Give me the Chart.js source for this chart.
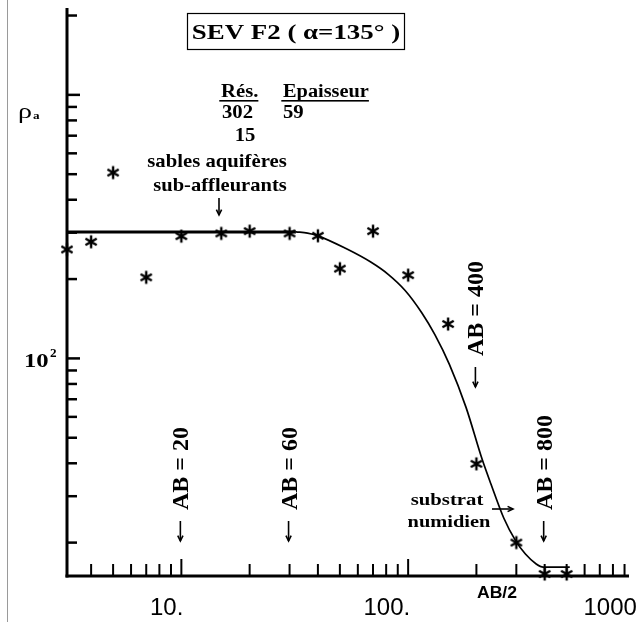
<!DOCTYPE html>
<html><head><meta charset="utf-8">
<script src="https://cdn.jsdelivr.net/npm/chart.js@4.4.0/dist/chart.umd.min.js"></script>
<style>html,body{margin:0;padding:0;background:#fff;overflow:hidden}canvas{display:block}</style>
</head><body>
<canvas id="c" width="637" height="622"></canvas>
<script>
// ---- data ----
const measuredAB2 = [3.13, 4, 5, 7, 10, 15, 20, 30, 40, 50, 70, 100, 150, 200, 300, 400, 500];
const measuredRho = [259, 277, 507, 203, 291, 298, 304, 298, 292, 219, 304, 207, 135, 39.8, 20.0, 15.2, 15.2];
const modelFlatAB2 = [3.13, 32];
const modelFlatRho = [302, 302];
const modelCurveAB2 = [32, 36, 39.8, 53.2, 68.4, 81.9, 97, 115, 131, 152, 180, 212, 232, 264, 298, 329, 367, 394, 516];
const modelCurveRho = [302, 299, 292.4, 261, 232, 208, 181, 148.7, 123.3, 94.9, 65.2, 41.4, 33.3, 24.8, 20.3, 18.1, 16.6, 16.15, 16.15];
const xTickValues = [10, 100, 1000];
const xTickLabels = ['10.', '100.', '1000'];
const xMinorTicks = [4,5,6,7,8,9,20,30,40,50,60,70,80,90,200,300,400,500,600,700,800,900];
const yTickValues = [20,30,40,50,60,70,80,90,100,200,300,400,500,600,700,800,900,1000,2000];
const electrodeAB = [20, 60, 400, 800];
const layerRes = ['302', '15'];
const layerThick = ['59'];

const SERIF = "'Liberation Serif','DejaVu Serif',serif";
const SANS = "'Liberation Sans','DejaVu Sans',sans-serif";

function starImg(){
  const c=document.createElement('canvas'); c.width=16; c.height=16;
  const g=c.getContext('2d'); g.strokeStyle='#000'; g.lineWidth=2.4; g.lineCap='butt';
  const r=6.5; g.beginPath();
  for(const a of [90,30,-30]){ const t=a*Math.PI/180;
    g.moveTo(8+r*Math.cos(t),8-r*Math.sin(t)); g.lineTo(8-r*Math.cos(t),8+r*Math.sin(t)); }
  g.stroke(); return c;
}

// text with horizontal stretch (the scanned original is widened)
function sText(ctx, s, x, y, font, sx, align, underline){
  ctx.save();
  ctx.font=font; ctx.textAlign=align||'left';
  ctx.translate(x, y); ctx.scale(sx, 1);
  ctx.fillText(s, 0, 0);
  if(underline){
    const w=ctx.measureText(s).width;
    ctx.fillRect(-1.5, 3, w+1.5, 1.6);
  }
  ctx.restore();
}

function arrowLine(ctx, x1, y1, x2, y2, head){
  ctx.beginPath(); ctx.moveTo(x1,y1); ctx.lineTo(x2,y2); ctx.stroke();
  const ang=Math.atan2(y2-y1, x2-x1);
  ctx.beginPath();
  ctx.moveTo(x2-head*Math.cos(ang-0.45), y2-head*Math.sin(ang-0.45));
  ctx.lineTo(x2, y2);
  ctx.lineTo(x2-head*Math.cos(ang+0.45), y2-head*Math.sin(ang+0.45));
  ctx.stroke();
}

const axesPlugin = {
  id:'axesPlugin',
  beforeDatasetsDraw(chart){
    const ctx=chart.ctx, a=chart.chartArea, xs=chart.scales.x, ys=chart.scales.y;
    ctx.save();
    ctx.strokeStyle='#9a9a9a'; ctx.lineWidth=1;
    ctx.beginPath(); ctx.moveTo(7.5,0); ctx.lineTo(7.5,622); ctx.stroke();
    ctx.strokeStyle='#000'; ctx.lineWidth=3;
    ctx.beginPath(); ctx.moveTo(a.left, a.top); ctx.lineTo(a.left, a.bottom+1.5); ctx.stroke();
    ctx.beginPath(); ctx.moveTo(a.left-1.5, a.bottom); ctx.lineTo(a.right, a.bottom); ctx.stroke();
    ctx.lineWidth=2.5;
    for(const v of yTickValues){
      const p=ys.getPixelForValue(v);
      const len=(v===100||v===1000)?13:10;
      ctx.beginPath(); ctx.moveTo(a.left, p); ctx.lineTo(a.left+len, p); ctx.stroke();
    }
    ctx.lineWidth=2;
    for(const v of xMinorTicks){
      const p=xs.getPixelForValue(v);
      if(p>a.right) continue;
      ctx.beginPath(); ctx.moveTo(p, a.bottom); ctx.lineTo(p, a.bottom-12); ctx.stroke();
    }
    for(const v of xTickValues){
      const p=xs.getPixelForValue(v);
      if(p>a.right) continue;
      ctx.beginPath(); ctx.moveTo(p, a.bottom); ctx.lineTo(p, a.bottom-17); ctx.stroke();
    }
    ctx.restore();
  },
  afterDraw(chart){
    const ctx=chart.ctx, xs=chart.scales.x;
    ctx.save();
    ctx.fillStyle='#000'; ctx.strokeStyle='#000'; ctx.textBaseline='alphabetic';
    // x tick labels
    xTickValues.forEach((v,i)=>{
      const p=Math.min(xs.getPixelForValue(v)+2, 637);
      sText(ctx, xTickLabels[i], p, 615, '24px '+SANS, 1, 'right');
    });
    sText(ctx, 'AB/2', 497, 598, 'bold 16px '+SANS, 1.1, 'center');
    // y axis labels
    sText(ctx, '\u03c1', 18, 118, '20px '+SERIF, 1.4, 'left');
    sText(ctx, 'a', 33, 119, 'bold 11px '+SERIF, 1.2, 'left');
    sText(ctx, '10', 24, 367, 'bold 19px '+SERIF, 1.3, 'left');
    sText(ctx, '2', 50, 357, 'bold 12px '+SERIF, 1.1, 'left');
    // title box
    ctx.lineWidth=1.2; ctx.strokeRect(187.5, 13.5, 217, 36);
    sText(ctx, 'SEV F2 ( \u03b1=135\u00b0 )', 296, 39, 'bold 21px '+SERIF, 1.28, 'center');
    // layer table
    sText(ctx, 'R\u00e9s.', 221, 97, 'bold 18px '+SERIF, 1.15, 'left', true);
    sText(ctx, 'Epaisseur', 283, 97, 'bold 18px '+SERIF, 1.13, 'left', true);
    sText(ctx, layerRes[0], 222, 118, 'bold 18px '+SERIF, 1.15, 'left');
    sText(ctx, layerThick[0], 283, 118, 'bold 18px '+SERIF, 1.15, 'left');
    sText(ctx, layerRes[1], 245, 141, 'bold 18px '+SERIF, 1.15, 'center');
    // sables annotation
    sText(ctx, 'sables aquif\u00e8res', 217, 167, 'bold 19px '+SERIF, 1.09, 'center');
    sText(ctx, 'sub-affleurants', 220, 191, 'bold 19px '+SERIF, 1.08, 'center');
    ctx.lineWidth=1.6;
    arrowLine(ctx, 219, 198, 219, 215, 6);
    // substrat annotation
    sText(ctx, 'substrat', 447, 505, 'bold 17px '+SERIF, 1.22, 'center');
    sText(ctx, 'numidien', 449, 527, 'bold 17px '+SERIF, 1.2, 'center');
    arrowLine(ctx, 492, 509, 513, 509, 6);
    // electrode spacing labels (vertical), placed at AB/2 on the x scale
    electrodeAB.forEach(v=>{
      const p=xs.getPixelForValue(v/2);
      const start = v===400 ? 388 : 542;
      ctx.save(); ctx.translate(p-1, start); ctx.rotate(-Math.PI/2);
      ctx.lineWidth=1.6;
      arrowLine(ctx, 21, 0, 1, 0, 6);
      ctx.font='bold 24px '+SERIF; ctx.textAlign='left'; ctx.textBaseline='alphabetic';
      ctx.fillText('AB = '+v, 32, 8);
      ctx.restore();
    });
    ctx.restore();
  }
};

new Chart(document.getElementById('c').getContext('2d'), {
  type:'scatter',
  data:{datasets:[
    {data: modelFlatAB2.map((x,i)=>({x, y:modelFlatRho[i]})), showLine:true, borderColor:'#000', borderWidth:3, pointRadius:0},
    {data: modelCurveAB2.map((x,i)=>({x, y:modelCurveRho[i]})), showLine:true, borderColor:'#000', borderWidth:1.7, pointRadius:0, cubicInterpolationMode:'monotone'},
    {data: measuredAB2.map((x,i)=>({x, y:measuredRho[i]})), showLine:false, pointStyle:starImg(), pointRadius:7, clip:false}
  ]},
  options:{
    responsive:false, animation:false, devicePixelRatio:1,
    layout:{padding:{left:67, top:7, right:0, bottom:46}},
    plugins:{legend:{display:false}, tooltip:{enabled:false}, title:{display:false}},
    scales:{
      x:{type:'logarithmic', min:3.131, max:941.7, display:false},
      y:{type:'logarithmic', min:14.94, max:2136, display:false}
    }
  },
  plugins:[axesPlugin]
});
</script>
</body></html>
